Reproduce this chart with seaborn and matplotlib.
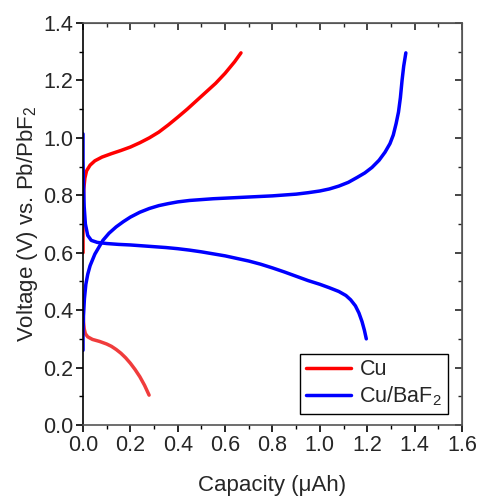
import pandas as pd
import numpy as np
import matplotlib
matplotlib.use('Agg')
import matplotlib.pyplot as plt
import seaborn as sns
from matplotlib.lines import Line2D
from matplotlib.ticker import MultipleLocator

# ============================================================
# DADOS
# ============================================================

# Cu - carga (vermelho)
cu_carga_x = [0.0, 0.0, 0.001, 0.003, 0.008, 0.015, 0.03, 0.05, 0.08, 0.12, 0.16,
              0.20, 0.24, 0.28, 0.32, 0.36, 0.40, 0.44, 0.48, 0.52, 0.56, 0.60,
              0.64, 0.667]
cu_carga_v = [0.60, 0.70, 0.77, 0.82, 0.86, 0.885, 0.905, 0.92, 0.933, 0.945, 0.956,
              0.968, 0.983, 1.00, 1.02, 1.045, 1.072, 1.10, 1.13, 1.16, 1.19, 1.225,
              1.265, 1.296]

# Cu - descarga (vermelho claro)
cu_desc_x = [0.0, 0.0, 0.002, 0.005, 0.01, 0.02, 0.04, 0.07, 0.10, 0.12, 0.14,
             0.16, 0.18, 0.20, 0.22, 0.24, 0.26, 0.279]
cu_desc_v = [0.45, 0.40, 0.36, 0.335, 0.318, 0.307, 0.298, 0.291, 0.282, 0.274, 0.263,
             0.25, 0.234, 0.215, 0.193, 0.168, 0.138, 0.104]

# Cu/BaF2 - descarga (azul)
ba_desc_x = [0.0, 0.0, 0.002, 0.005, 0.01, 0.02, 0.035, 0.06, 0.10, 0.15, 0.20,
             0.25, 0.30, 0.35, 0.40, 0.45, 0.50, 0.55, 0.60, 0.65, 0.70, 0.75,
             0.80, 0.85, 0.90, 0.95, 1.00, 1.04, 1.08, 1.11, 1.13, 1.15, 1.165,
             1.178, 1.188, 1.196]
ba_desc_v = [1.014, 0.92, 0.84, 0.76, 0.70, 0.66, 0.643, 0.636, 0.632, 0.629, 0.627,
             0.624, 0.621, 0.618, 0.614, 0.609, 0.603, 0.596, 0.589, 0.58, 0.571, 0.56,
             0.547, 0.533, 0.518, 0.503, 0.49, 0.478, 0.465, 0.451, 0.436, 0.415, 0.39,
             0.36, 0.33, 0.30]

# Cu/BaF2 - carga (azul)
ba_carga_x = [0.0, 0.0, 0.002, 0.006, 0.012, 0.02, 0.03, 0.05, 0.084, 0.11, 0.14,
              0.17, 0.20, 0.24, 0.28, 0.32, 0.36, 0.40, 0.45, 0.50, 0.55, 0.60,
              0.65, 0.70, 0.75, 0.80, 0.85, 0.90, 0.95, 1.00, 1.04, 1.08, 1.12,
              1.157, 1.19, 1.22, 1.25, 1.275, 1.296, 1.31, 1.322, 1.332, 1.34,
              1.347, 1.354, 1.363]
ba_carga_v = [0.26, 0.32, 0.38, 0.44, 0.49, 0.525, 0.555, 0.595, 0.643, 0.668, 0.69,
              0.708, 0.724, 0.741, 0.754, 0.764, 0.771, 0.777, 0.782, 0.785, 0.788, 0.79,
              0.792, 0.794, 0.796, 0.798, 0.801, 0.804, 0.809, 0.815, 0.822, 0.832, 0.845,
              0.862, 0.878, 0.897, 0.922, 0.95, 0.98, 1.01, 1.05, 1.09, 1.14,
              1.20, 1.25, 1.296]

series = [
    ('cu_carga', cu_carga_x, cu_carga_v),
    ('cu_desc', cu_desc_x, cu_desc_v),
    ('ba_desc', ba_desc_x, ba_desc_v),
    ('ba_carga', ba_carga_x, ba_carga_v),
]
cores = {'cu_carga': '#ff0000', 'cu_desc': '#f03c3c',
         'ba_desc': '#0000ff', 'ba_carga': '#0000ff'}

df = pd.concat([pd.DataFrame({'Capacidade': x, 'Tensao': v, 'curva': nome})
                for nome, x, v in series], ignore_index=True)

# ============================================================
# FIGURA
# ============================================================

sns.set_style('ticks')
plt.rcParams['font.family'] = ['Liberation Sans', 'DejaVu Sans']
plt.rcParams['mathtext.fontset'] = 'custom'
plt.rcParams['mathtext.rm'] = 'Liberation Sans'
plt.rcParams['mathtext.it'] = 'Liberation Sans'

fig = plt.figure(figsize=(4.84, 4.98), dpi=100)
ax = fig.add_axes([0.1715, 0.1466, 0.7830, 0.8072])

sns.lineplot(data=df, x='Capacidade', y='Tensao', hue='curva', units='curva',
             estimator=None, sort=False, palette=cores, linewidth=2.5,
             legend=False, ax=ax)

ax.set_xlim(0, 1.6)
ax.set_ylim(0, 1.4)
ax.xaxis.set_major_locator(MultipleLocator(0.2))
ax.xaxis.set_minor_locator(MultipleLocator(0.1))
ax.yaxis.set_major_locator(MultipleLocator(0.2))
ax.yaxis.set_minor_locator(MultipleLocator(0.1))
ax.xaxis.set_major_formatter(plt.FormatStrFormatter('%.1f'))
ax.yaxis.set_major_formatter(plt.FormatStrFormatter('%.1f'))

for s in ax.spines.values():
    s.set_color('#555555')
    s.set_linewidth(1.2)
ax.spines['left'].set_color('black')

ax.tick_params(which='both', direction='out', labelsize=15.5, color='black',
               top=False, right=False)
ax.tick_params(which='major', length=5, width=1.2, pad=2)
ax.tick_params(which='minor', length=3, width=1.0)

# ticks internos no topo e à direita
ax2 = ax.secondary_xaxis('top')
ax2.xaxis.set_major_locator(MultipleLocator(0.2))
ax2.xaxis.set_minor_locator(MultipleLocator(0.1))
ax2.tick_params(which='both', direction='in', labeltop=False)
ax2.tick_params(which='major', length=5, width=1.2)
ax2.tick_params(which='minor', length=3, width=1.0)
ax2.spines['top'].set_color('#555555')
ax3 = ax.secondary_yaxis('right')
ax3.yaxis.set_major_locator(MultipleLocator(0.2))
ax3.yaxis.set_minor_locator(MultipleLocator(0.1))
ax3.tick_params(which='both', direction='in', labelright=False)
ax3.tick_params(which='major', length=5, width=1.2)
ax3.tick_params(which='minor', length=3, width=1.0)
ax3.spines['right'].set_color('#555555')

ax.set_xlabel('Capacity (μAh)', fontsize=16, labelpad=14)
ax.set_ylabel('Voltage (V) vs. Pb/PbF$_2$', fontsize=16, labelpad=2)

handles = [Line2D([], [], color='#ff0000', lw=2.5),
           Line2D([], [], color='#0000ff', lw=2.5)]
leg = ax.legend(handles, ['Cu', 'Cu/BaF$_2$'], loc='lower right',
                bbox_to_anchor=(0.962, 0.028), fontsize=15.5, frameon=True,
                fancybox=False, framealpha=1, edgecolor='black',
                handlelength=2.1, handletextpad=0.4, borderpad=0.25,
                labelspacing=0.2, borderaxespad=0)
leg.get_frame().set_linewidth(1.0)

plt.savefig('out.png', dpi=100)
plt.close()
